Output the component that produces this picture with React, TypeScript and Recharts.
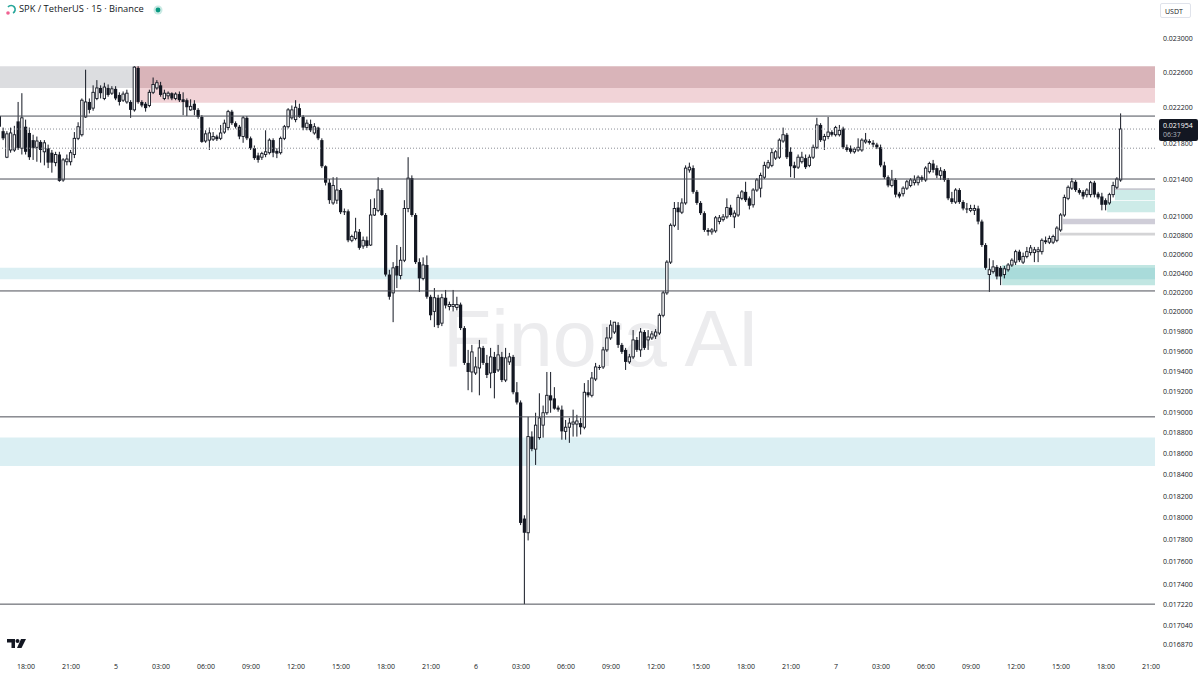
import React from 'react'
import { ComposedChart, Bar, XAxis, YAxis, ReferenceLine, ReferenceArea } from 'recharts'

// 15-minute slots, counted from 18:00 on the 4th; the first candle sits 7 slots earlier
const firstSlot = -7

const opens = [
  0.02210, 0.02193, 0.02164, 0.02172, 0.02172, 0.02204, 0.02174,
  0.02198, 0.02191, 0.02183, 0.02175, 0.02181, 0.02170, 0.02174, 0.02169, 0.02158, 0.02167,
  0.02139, 0.02159, 0.02159, 0.02167, 0.02185, 0.02189, 0.02209, 0.02226, 0.02219, 0.02230,
  0.02242, 0.02230, 0.02242, 0.02236, 0.02241, 0.02234, 0.02228, 0.02226, 0.02226, 0.02217,
  0.02265, 0.02226, 0.02224, 0.02222, 0.02237, 0.02242, 0.02245, 0.02230, 0.02233, 0.02236,
  0.02230, 0.02235, 0.02229, 0.02228, 0.02217, 0.02224, 0.02217, 0.02209, 0.02182, 0.02183,
  0.02184, 0.02187, 0.02185, 0.02192, 0.02197, 0.02215, 0.02202, 0.02198, 0.02187, 0.02208,
  0.02185, 0.02174, 0.02166, 0.02164, 0.02167, 0.02169, 0.02183, 0.02171, 0.02169, 0.02185,
  0.02198, 0.02208, 0.02206, 0.02219, 0.02209, 0.02197, 0.02201, 0.02191, 0.02197, 0.02183,
  0.02154, 0.02136, 0.02114, 0.02117, 0.02128, 0.02105, 0.02105, 0.02074, 0.02076, 0.02083,
  0.02068, 0.02074, 0.02069, 0.02101, 0.02106, 0.02128, 0.02101, 0.02038, 0.02019, 0.02047,
  0.02037, 0.02053, 0.02108, 0.02141, 0.02101, 0.02051, 0.02034, 0.02048, 0.02015, 0.02000,
  0.02014, 0.01988, 0.02014, 0.02005, 0.02005, 0.02004, 0.02007, 0.01983, 0.01948, 0.01939,
  0.01938, 0.01943, 0.01963, 0.01948, 0.01938, 0.01954, 0.01941, 0.01954, 0.01931, 0.01949,
  0.01954, 0.01919, 0.01909, 0.01799, 0.01786, 0.01876, 0.01864, 0.01875, 0.01887, 0.01899,
  0.01916, 0.01913, 0.01904, 0.01902, 0.01881, 0.01885, 0.01888, 0.01888, 0.01889, 0.01885,
  0.01919, 0.01916, 0.01932, 0.01944, 0.01944, 0.01961, 0.01973, 0.01979, 0.01986, 0.01966,
  0.01961, 0.01949, 0.01954, 0.01971, 0.01961, 0.01979, 0.01971, 0.01973, 0.01975, 0.01978,
  0.01996, 0.02019, 0.02051, 0.02090, 0.02109, 0.02104, 0.02114, 0.02150, 0.02152, 0.02126,
  0.02114, 0.02103, 0.02085, 0.02083, 0.02084, 0.02094, 0.02096, 0.02099, 0.02109, 0.02099,
  0.02101, 0.02119, 0.02126, 0.02119, 0.02112, 0.02128, 0.02130, 0.02142, 0.02153, 0.02155,
  0.02163, 0.02164, 0.02182, 0.02189, 0.02170, 0.02155, 0.02153, 0.02159, 0.02163, 0.02155,
  0.02164, 0.02175, 0.02200, 0.02183, 0.02187, 0.02192, 0.02189, 0.02189, 0.02196, 0.02175,
  0.02174, 0.02170, 0.02172, 0.02172, 0.02181, 0.02182, 0.02180, 0.02178, 0.02175, 0.02155,
  0.02142, 0.02133, 0.02139, 0.02124, 0.02124, 0.02130, 0.02133, 0.02136, 0.02136, 0.02142,
  0.02139, 0.02148, 0.02157, 0.02152, 0.02144, 0.02149, 0.02139, 0.02119, 0.02115, 0.02128,
  0.02115, 0.02108, 0.02106, 0.02106, 0.02108, 0.02094, 0.02069, 0.02038, 0.02041, 0.02046,
  0.02045, 0.02038, 0.02043, 0.02048, 0.02051, 0.02062, 0.02051, 0.02057, 0.02061, 0.02061,
  0.02062, 0.02062, 0.02074, 0.02072, 0.02072, 0.02074, 0.02085, 0.02101, 0.02119, 0.02130,
  0.02137, 0.02128, 0.02126, 0.02123, 0.02123, 0.02136, 0.02124, 0.02121, 0.02117, 0.02114,
  0.02123, 0.02131, 0.02139,
]

const highs = [
  0.02212, 0.02197, 0.02193, 0.02197, 0.02199, 0.02226, 0.02236,
  0.02206, 0.02197, 0.02189, 0.02187, 0.02183, 0.02183, 0.02178, 0.02172, 0.02170, 0.02170,
  0.02163, 0.02167, 0.02172, 0.02192, 0.02203, 0.02230, 0.02263, 0.02230, 0.02245, 0.02251,
  0.02245, 0.02248, 0.02246, 0.02244, 0.02244, 0.02237, 0.02238, 0.02240, 0.02228, 0.02267,
  0.02267, 0.02228, 0.02226, 0.02240, 0.02254, 0.02251, 0.02249, 0.02240, 0.02238, 0.02237,
  0.02237, 0.02238, 0.02237, 0.02230, 0.02229, 0.02228, 0.02219, 0.02211, 0.02194, 0.02197,
  0.02192, 0.02189, 0.02200, 0.02206, 0.02217, 0.02217, 0.02204, 0.02200, 0.02210, 0.02210,
  0.02187, 0.02177, 0.02169, 0.02170, 0.02194, 0.02185, 0.02185, 0.02174, 0.02187, 0.02200,
  0.02219, 0.02222, 0.02228, 0.02224, 0.02211, 0.02206, 0.02206, 0.02202, 0.02198, 0.02185,
  0.02155, 0.02140, 0.02142, 0.02142, 0.02130, 0.02108, 0.02107, 0.02080, 0.02098, 0.02086,
  0.02078, 0.02078, 0.02118, 0.02119, 0.02142, 0.02130, 0.02103, 0.02043, 0.02051, 0.02069,
  0.02067, 0.02117, 0.02164, 0.02144, 0.02103, 0.02055, 0.02056, 0.02058, 0.02017, 0.02024,
  0.02017, 0.02018, 0.02022, 0.02010, 0.02022, 0.02015, 0.02009, 0.01985, 0.01961, 0.01966,
  0.01954, 0.01971, 0.01965, 0.01956, 0.01963, 0.01959, 0.01966, 0.01959, 0.01963, 0.01958,
  0.01956, 0.01929, 0.01911, 0.01802, 0.01895, 0.01881, 0.01899, 0.01918, 0.01906, 0.01939,
  0.01939, 0.01924, 0.01906, 0.01906, 0.01892, 0.01894, 0.01902, 0.01897, 0.01894, 0.01928,
  0.01931, 0.01939, 0.01948, 0.01946, 0.01964, 0.01984, 0.01991, 0.01989, 0.01989, 0.01968,
  0.01963, 0.01957, 0.01981, 0.01974, 0.01983, 0.01981, 0.01981, 0.01980, 0.01982, 0.01998,
  0.02021, 0.02053, 0.02092, 0.02115, 0.02115, 0.02119, 0.02155, 0.02158, 0.02155, 0.02128,
  0.02116, 0.02105, 0.02087, 0.02087, 0.02100, 0.02101, 0.02102, 0.02119, 0.02112, 0.02106,
  0.02123, 0.02128, 0.02137, 0.02121, 0.02130, 0.02141, 0.02147, 0.02159, 0.02161, 0.02174,
  0.02172, 0.02185, 0.02197, 0.02191, 0.02175, 0.02159, 0.02167, 0.02170, 0.02167, 0.02167,
  0.02178, 0.02208, 0.02202, 0.02190, 0.02209, 0.02194, 0.02199, 0.02200, 0.02198, 0.02178,
  0.02177, 0.02175, 0.02185, 0.02185, 0.02191, 0.02184, 0.02183, 0.02180, 0.02178, 0.02159,
  0.02144, 0.02150, 0.02141, 0.02126, 0.02132, 0.02139, 0.02141, 0.02144, 0.02144, 0.02144,
  0.02154, 0.02159, 0.02161, 0.02155, 0.02153, 0.02151, 0.02141, 0.02126, 0.02130, 0.02130,
  0.02117, 0.02114, 0.02112, 0.02112, 0.02111, 0.02096, 0.02071, 0.02055, 0.02053, 0.02048,
  0.02047, 0.02047, 0.02050, 0.02055, 0.02064, 0.02064, 0.02061, 0.02067, 0.02069, 0.02067,
  0.02067, 0.02076, 0.02078, 0.02079, 0.02080, 0.02089, 0.02103, 0.02123, 0.02133, 0.02141,
  0.02139, 0.02130, 0.02128, 0.02130, 0.02138, 0.02138, 0.02126, 0.02125, 0.02119, 0.02125,
  0.02137, 0.02142, 0.02213,
]

const lows = [
  0.02194, 0.02183, 0.02163, 0.02169, 0.02170, 0.02172, 0.02167,
  0.02167, 0.02161, 0.02161, 0.02159, 0.02158, 0.02155, 0.02152, 0.02147, 0.02154, 0.02137,
  0.02137, 0.02155, 0.02155, 0.02163, 0.02183, 0.02187, 0.02208, 0.02213, 0.02216, 0.02228,
  0.02230, 0.02228, 0.02232, 0.02234, 0.02228, 0.02222, 0.02226, 0.02224, 0.02208, 0.02215,
  0.02224, 0.02220, 0.02215, 0.02220, 0.02235, 0.02240, 0.02232, 0.02228, 0.02229, 0.02228,
  0.02228, 0.02226, 0.02211, 0.02210, 0.02216, 0.02211, 0.02207, 0.02180, 0.02180, 0.02172,
  0.02182, 0.02182, 0.02183, 0.02190, 0.02194, 0.02200, 0.02196, 0.02184, 0.02180, 0.02183,
  0.02172, 0.02161, 0.02158, 0.02161, 0.02164, 0.02167, 0.02164, 0.02163, 0.02167, 0.02183,
  0.02196, 0.02206, 0.02203, 0.02208, 0.02194, 0.02194, 0.02192, 0.02189, 0.02183, 0.02152,
  0.02133, 0.02113, 0.02112, 0.02113, 0.02102, 0.02101, 0.02072, 0.02072, 0.02074, 0.02064,
  0.02065, 0.02066, 0.02068, 0.02100, 0.02104, 0.02100, 0.02036, 0.02012, 0.01989, 0.02024,
  0.02033, 0.02051, 0.02104, 0.02099, 0.02049, 0.02020, 0.02032, 0.02013, 0.01991, 0.01984,
  0.01983, 0.01985, 0.02003, 0.02001, 0.02000, 0.02001, 0.01981, 0.01946, 0.01921, 0.01919,
  0.01936, 0.01916, 0.01946, 0.01933, 0.01923, 0.01913, 0.01939, 0.01929, 0.01929, 0.01946,
  0.01917, 0.01907, 0.01793, 0.01722, 0.01779, 0.01862, 0.01849, 0.01873, 0.01875, 0.01897,
  0.01899, 0.01902, 0.01900, 0.01873, 0.01873, 0.01870, 0.01876, 0.01876, 0.01878, 0.01883,
  0.01914, 0.01914, 0.01930, 0.01941, 0.01942, 0.01959, 0.01971, 0.01977, 0.01963, 0.01957,
  0.01941, 0.01947, 0.01952, 0.01959, 0.01954, 0.01961, 0.01961, 0.01971, 0.01972, 0.01976,
  0.01994, 0.02017, 0.02049, 0.02088, 0.02085, 0.02102, 0.02112, 0.02147, 0.02124, 0.02112,
  0.02101, 0.02083, 0.02079, 0.02080, 0.02082, 0.02091, 0.02094, 0.02097, 0.02099, 0.02087,
  0.02099, 0.02117, 0.02115, 0.02107, 0.02109, 0.02126, 0.02120, 0.02140, 0.02151, 0.02153,
  0.02161, 0.02162, 0.02180, 0.02162, 0.02142, 0.02141, 0.02151, 0.02157, 0.02151, 0.02153,
  0.02162, 0.02173, 0.02181, 0.02172, 0.02184, 0.02187, 0.02187, 0.02187, 0.02173, 0.02170,
  0.02168, 0.02168, 0.02170, 0.02170, 0.02179, 0.02178, 0.02175, 0.02173, 0.02153, 0.02140,
  0.02131, 0.02131, 0.02120, 0.02119, 0.02121, 0.02128, 0.02131, 0.02133, 0.02133, 0.02137,
  0.02137, 0.02146, 0.02147, 0.02141, 0.02139, 0.02137, 0.02117, 0.02113, 0.02113, 0.02113,
  0.02106, 0.02103, 0.02104, 0.02101, 0.02091, 0.02067, 0.02043, 0.02020, 0.02039, 0.02033,
  0.02027, 0.02034, 0.02041, 0.02046, 0.02048, 0.02051, 0.02049, 0.02055, 0.02058, 0.02051,
  0.02051, 0.02059, 0.02070, 0.02070, 0.02070, 0.02072, 0.02083, 0.02099, 0.02117, 0.02128,
  0.02126, 0.02123, 0.02118, 0.02120, 0.02120, 0.02120, 0.02118, 0.02106, 0.02106, 0.02112,
  0.02120, 0.02129, 0.02137,
]

const closes = [
  0.02198, 0.02185, 0.02190, 0.02191, 0.02189, 0.02174, 0.02208,
  0.02170, 0.02164, 0.02174, 0.02182, 0.02172, 0.02180, 0.02158, 0.02158, 0.02167, 0.02138,
  0.02161, 0.02162, 0.02169, 0.02185, 0.02198, 0.02228, 0.02226, 0.02217, 0.02237, 0.02242,
  0.02236, 0.02243, 0.02234, 0.02241, 0.02230, 0.02226, 0.02235, 0.02236, 0.02217, 0.02266,
  0.02226, 0.02222, 0.02219, 0.02237, 0.02246, 0.02248, 0.02234, 0.02236, 0.02236, 0.02230,
  0.02235, 0.02228, 0.02226, 0.02220, 0.02221, 0.02217, 0.02209, 0.02181, 0.02190, 0.02191,
  0.02187, 0.02184, 0.02191, 0.02202, 0.02215, 0.02202, 0.02198, 0.02187, 0.02208, 0.02185,
  0.02174, 0.02163, 0.02161, 0.02168, 0.02170, 0.02183, 0.02169, 0.02168, 0.02185, 0.02198,
  0.02217, 0.02217, 0.02220, 0.02209, 0.02197, 0.02202, 0.02194, 0.02198, 0.02185, 0.02154,
  0.02136, 0.02117, 0.02133, 0.02128, 0.02104, 0.02104, 0.02074, 0.02078, 0.02083, 0.02066,
  0.02074, 0.02068, 0.02101, 0.02108, 0.02128, 0.02101, 0.02038, 0.02015, 0.02045, 0.02037,
  0.02053, 0.02108, 0.02141, 0.02101, 0.02051, 0.02034, 0.02048, 0.02015, 0.01996, 0.02014,
  0.01986, 0.02014, 0.02006, 0.02007, 0.02007, 0.02007, 0.01983, 0.01948, 0.01939, 0.01959,
  0.01944, 0.01963, 0.01948, 0.01936, 0.01954, 0.01938, 0.01956, 0.01931, 0.01953, 0.01954,
  0.01919, 0.01909, 0.01795, 0.01786, 0.01876, 0.01864, 0.01887, 0.01894, 0.01899, 0.01916,
  0.01911, 0.01903, 0.01902, 0.01881, 0.01885, 0.01889, 0.01890, 0.01891, 0.01885, 0.01919,
  0.01916, 0.01933, 0.01944, 0.01943, 0.01961, 0.01973, 0.01986, 0.01989, 0.01966, 0.01959,
  0.01949, 0.01954, 0.01971, 0.01961, 0.01979, 0.01963, 0.01974, 0.01977, 0.01979, 0.01996,
  0.02019, 0.02051, 0.02090, 0.02108, 0.02104, 0.02114, 0.02152, 0.02153, 0.02126, 0.02114,
  0.02103, 0.02085, 0.02083, 0.02085, 0.02098, 0.02098, 0.02099, 0.02109, 0.02101, 0.02103,
  0.02120, 0.02126, 0.02117, 0.02111, 0.02128, 0.02139, 0.02144, 0.02155, 0.02158, 0.02169,
  0.02170, 0.02183, 0.02189, 0.02164, 0.02154, 0.02152, 0.02164, 0.02164, 0.02153, 0.02164,
  0.02175, 0.02200, 0.02183, 0.02187, 0.02192, 0.02189, 0.02197, 0.02194, 0.02175, 0.02172,
  0.02170, 0.02173, 0.02175, 0.02183, 0.02183, 0.02180, 0.02178, 0.02175, 0.02155, 0.02142,
  0.02133, 0.02139, 0.02123, 0.02121, 0.02130, 0.02137, 0.02139, 0.02139, 0.02142, 0.02139,
  0.02152, 0.02157, 0.02150, 0.02144, 0.02149, 0.02139, 0.02119, 0.02115, 0.02128, 0.02115,
  0.02108, 0.02107, 0.02108, 0.02108, 0.02094, 0.02069, 0.02045, 0.02043, 0.02046, 0.02036,
  0.02036, 0.02044, 0.02048, 0.02053, 0.02062, 0.02053, 0.02057, 0.02062, 0.02066, 0.02064,
  0.02064, 0.02074, 0.02072, 0.02076, 0.02078, 0.02087, 0.02101, 0.02120, 0.02131, 0.02137,
  0.02128, 0.02125, 0.02121, 0.02128, 0.02136, 0.02123, 0.02120, 0.02112, 0.02112, 0.02123,
  0.02133, 0.02140, 0.021954,
]

const timeTicks = [0, 12, 24, 36, 48, 60, 72, 84, 96, 108, 120, 132, 144, 156, 168, 180, 192, 204, 216, 228, 240, 252, 264, 276, 288, 300]
const timeLabels = ['18:00', '21:00', '5', '03:00', '06:00', '09:00', '12:00', '15:00', '18:00', '21:00', '6', '03:00', '06:00', '09:00', '12:00', '15:00', '18:00', '21:00', '7', '03:00', '06:00', '09:00', '12:00', '15:00', '18:00', '21:00']

const priceTicks = [0.023, 0.0226, 0.0222, 0.0218, 0.0214, 0.021, 0.0208, 0.0206, 0.0204, 0.0202, 0.02, 0.0198, 0.0196, 0.0194, 0.0192, 0.019, 0.0188, 0.0186, 0.0184, 0.0182, 0.018, 0.0178, 0.0176, 0.0174, 0.01722, 0.01704, 0.01687]

// drawn levels and boxes (prices)
const solidLevels = [0.0221, 0.0214, 0.02021, 0.01895, 0.01722]
const lastPrice = 0.021954
const dottedLevel = 0.02174
const supplyZone = [0.02225, 0.02242, 0.02267] // lower edge, split, upper edge
const demandZones = [[0.02033, 0.02045], [0.01848, 0.01875]]
const teal = [0.02027, 0.02048]

const candles = opens.map((o, i) => ({
  t: firstSlot + i,
  open: o,
  high: highs[i],
  low: lows[i],
  close: closes[i],
  range: [lows[i], highs[i]],
}))

const font = "'Open Sans', 'Noto Sans', sans-serif"

function Candle(props: any) {
  const { x, y, width, height, payload } = props
  if (x == null || !payload) return null
  const top = Math.min(y, y + height)
  const bottom = Math.max(y, y + height)
  const lh = Math.log(payload.high)
  const span = lh - Math.log(payload.low)
  // log axis, so interpolate in log space between the high and low pixels
  const at = (p: number) => (span > 0 ? top + ((bottom - top) * (lh - Math.log(p))) / span : top)
  const cx = x + width / 2
  const yo = at(payload.open)
  const yc = at(payload.close)
  const up = payload.close >= payload.open
  const bt = Math.min(yo, yc)
  const bh = Math.max(Math.abs(yc - yo), 1)
  return (
    <g>
      <line x1={cx} x2={cx} y1={top} y2={bottom} stroke="#131722" strokeWidth={1} />
      {up ? (
        <rect x={cx - 1.2} y={bt} width={2.4} height={bh} fill="#ffffff" stroke="#131722" strokeWidth={0.9} />
      ) : (
        <rect x={cx - 1.6} y={bt} width={3.2} height={bh} fill="#131722" />
      )}
    </g>
  )
}

// rounded positions keep the small labels grey instead of colour-fringed
function TimeTick(props: any) {
  const { x, y, payload } = props
  const label = timeLabels[timeTicks.indexOf(payload.value)] ?? ''
  return (
    <text x={Math.round(x)} y={Math.round(y) + 6} textAnchor="middle" fontSize={7} fill="#131722" fontFamily={font}>
      {label}
    </text>
  )
}

function PriceTick(props: any) {
  const { x, y, payload } = props
  return (
    <text x={Math.round(x)} y={Math.round(y) + 2.5} textAnchor="start" fontSize={7} fill="#131722" fontFamily={font}>
      {Number(payload.value).toFixed(6)}
    </text>
  )
}

export default function App() {
  return (
    <div style={{ position: 'absolute', left: 0, top: 0, width: 1200, height: 675, background: '#ffffff', overflow: 'hidden', fontFamily: font }}>
      <svg width={1200} height={675} style={{ position: 'absolute', left: 0, top: 0 }}>
        <text x={601} y={366} textAnchor="middle" fontSize={79} fill="#ececee" fontFamily="'Liberation Sans', Arial, sans-serif">
          Finora AI
        </text>
      </svg>

      <div style={{ position: 'absolute', left: 0, top: 0 }}>
        <ComposedChart width={1200} height={675} data={candles} margin={{ top: 0, right: 0, bottom: 0, left: 0 }}>
          <XAxis
            dataKey="t"
            type="number"
            domain={[-6.93, 301.07]}
            allowDataOverflow
            ticks={timeTicks}
            interval={0}
            axisLine={false}
            tickLine={false}
            height={20}
            tick={<TimeTick />}
          />
          <YAxis
            orientation="right"
            scale="log"
            domain={[0.016778, 0.023451]}
            allowDataOverflow
            ticks={priceTicks}
            interval={0}
            axisLine={false}
            tickLine={false}
            width={45}
            tick={<PriceTick />}
          />

          <ReferenceArea x1={-6.93} x2={29.3} y1={supplyZone[1]} y2={supplyZone[2]} fill="#dcdde0" fillOpacity={1} stroke="none" />
          <ReferenceArea x1={29.3} x2={301.07} y1={supplyZone[1]} y2={supplyZone[2]} fill="#d9b4b9" fillOpacity={1} stroke="none" />
          <ReferenceArea x1={29.3} x2={301.07} y1={supplyZone[0]} y2={supplyZone[1]} fill="#f1d3d7" fillOpacity={1} stroke="none" />
          {demandZones.map((z, i) => (
            <ReferenceArea key={i} y1={z[0]} y2={z[1]} fill="#dbeff3" fillOpacity={1} stroke="none" />
          ))}
          <ReferenceArea x1={260.3} x2={301.07} y1={teal[0]} y2={teal[1]} fill="#4db6ac" fillOpacity={0.35} stroke="none" />
          <ReferenceArea x1={288.3} x2={301.07} y1={0.02104} y2={0.02116} fill="#4db6ac" fillOpacity={0.28} stroke="none" />
          <ReferenceArea x1={290.4} x2={301.07} y1={0.02117} y2={0.02128} fill="#4db6ac" fillOpacity={0.28} stroke="none" />
          <ReferenceArea x1={290.4} x2={301.07} y1={0.02128} y2={0.02130} fill="#c7c8d0" fillOpacity={1} stroke="none" />
          <ReferenceArea x1={276.5} x2={301.07} y1={0.02091} y2={0.02097} fill="#cfcdd8" fillOpacity={1} stroke="none" />
          <ReferenceArea x1={275.7} x2={301.07} y1={0.02079} y2={0.02082} fill="#d4d4d6" fillOpacity={1} stroke="none" />

          {solidLevels.map((p) => (
            <ReferenceLine key={p} y={p} stroke="#4b4e57" strokeWidth={1} />
          ))}
          <ReferenceLine y={lastPrice} stroke="#8a8d96" strokeDasharray="1 2" strokeWidth={1} />
          <ReferenceLine y={dottedLevel} stroke="#8a8d96" strokeDasharray="1 2" strokeWidth={1} />

          <Bar dataKey="range" barSize={3} isAnimationActive={false} shape={(p: any) => <Candle {...p} />} />
        </ComposedChart>
      </div>

      {/* header */}
      <svg width={14} height={14} style={{ position: 'absolute', left: 4, top: 3 }}>
        <path d="M4 4 A4 4 0 1 1 9 10" fill="none" stroke="#26a69a" strokeWidth={1.6} />
        <circle cx={4} cy={10} r={1.8} fill="#f06292" />
      </svg>
      <div style={{ position: 'absolute', left: 19, top: 2, fontSize: 9.3, color: '#131722', whiteSpace: 'nowrap' }}>
        SPK / TetherUS · 15 · Binance
      </div>
      <svg width={12} height={12} style={{ position: 'absolute', left: 152, top: 4 }}>
        <circle cx={6} cy={6} r={4.5} fill="#089981" fillOpacity={0.22} />
        <circle cx={6} cy={6} r={2.4} fill="#089981" />
      </svg>

      <div style={{ position: 'absolute', left: 1160, top: 3, width: 31, height: 15, border: '1px solid #e0e3eb', borderRadius: 2, fontSize: 7, color: '#131722', lineHeight: '15px', paddingLeft: 4, boxSizing: 'border-box', background: '#fff' }}>
        USDT
      </div>

      <div style={{ position: 'absolute', left: 1159, top: 119, width: 39, height: 22, background: '#131722', borderRadius: 2, color: '#fff', fontSize: 7, lineHeight: '9px', padding: '2px 0 0 4px', boxSizing: 'border-box' }}>
        <div>{lastPrice.toFixed(6)}</div>
        <div style={{ color: '#b2b5be' }}>06:37</div>
      </div>

      {/* TradingView mark */}
      <svg width={22} height={12} style={{ position: 'absolute', left: 7, top: 638 }}>
        <path d="M0 1 H8 V10 H4.5 V4.5 H0 Z" fill="#131722" />
        <circle cx={10.5} cy={3} r={2} fill="#131722" />
        <path d="M14 1 H19 L14.5 10 H10 Z" fill="#131722" />
      </svg>
    </div>
  )
}
